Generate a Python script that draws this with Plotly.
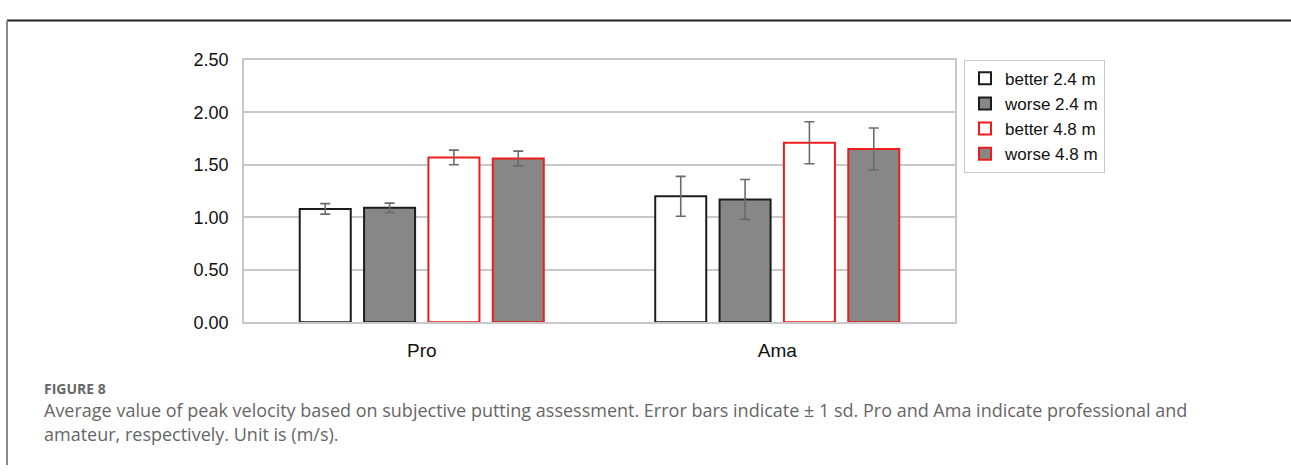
import plotly.graph_objects as go

W, H = 1291, 475

categories = ["Pro", "Ama"]
series_names = ["better 2.4 m", "worse 2.4 m", "better 4.8 m", "worse 4.8 m"]
means = {
    "better 2.4 m": [1.08, 1.20],
    "worse 2.4 m": [1.09, 1.17],
    "better 4.8 m": [1.57, 1.71],
    "worse 4.8 m": [1.56, 1.65],
}
sds = {
    "better 2.4 m": [0.05, 0.19],
    "worse 2.4 m": [0.045, 0.19],
    "better 4.8 m": [0.07, 0.20],
    "worse 4.8 m": [0.07, 0.20],
}
fills = {"better 2.4 m": "#ffffff", "worse 2.4 m": "#878787",
         "better 4.8 m": "#ffffff", "worse 4.8 m": "#878787"}
edges = {"better 2.4 m": "#1c1c1c", "worse 2.4 m": "#1c1c1c",
         "better 4.8 m": "#ee1c1c", "worse 4.8 m": "#ee1c1c"}

y_ticks = [0, 0.5, 1.0, 1.5, 2.0, 2.5]

fig = go.Figure()
for i, name in enumerate(series_names):
    fig.add_trace(go.Bar(
        x=categories, y=means[name], name=name, legendgroup=f"g{i}",
        marker=dict(color=fills[name], line=dict(color=edges[name], width=2)),
        error_y=dict(type="data", array=sds[name], color="#6a6a6a", thickness=1.6, width=5),
    ))

px0, px1 = 244, 955
py0, py1 = 52, 326

fig.update_layout(
    width=W, height=H,
    margin=dict(l=0, r=0, t=0, b=0),
    paper_bgcolor="white", plot_bgcolor="white",
    barmode="group", bargap=0.276, bargroupgap=0.207,
    font=dict(family="Arial, Liberation Sans", color="#111"),
    showlegend=True,
    legend=dict(
        x=964 / W, y=1 - 52 / H, xanchor="left", yanchor="top",
        bordercolor="#c8c8c8", borderwidth=1, bgcolor="white",
        font=dict(family="Arial, Liberation Sans", size=17, color="#111"),
        traceorder="normal", tracegroupgap=2,
    ),
    xaxis=dict(
        domain=[px0 / W, px1 / W], showgrid=False, zeroline=False,
        showline=True, linecolor="#c8c8c8", linewidth=1.5, mirror=True,
        ticks="", tickfont=dict(size=19, color="#111"), ticklabelstandoff=10,
    ),
    yaxis=dict(
        domain=[1 - py1 / H, 1 - py0 / H], range=[0, 2.5],
        tickvals=y_ticks, tickformat=".2f",
        showgrid=True, gridcolor="#c8c8c8", gridwidth=1.5,
        zeroline=False, showline=True, linecolor="#c8c8c8", linewidth=1.5, mirror=True,
        ticks="", tickfont=dict(size=18, color="#111"), ticklabelstandoff=10,
    ),
)

# page frame lines
fig.add_shape(type="line", xref="paper", yref="paper", x0=7 / W, x1=1.0,
              y0=1 - 11 / H, y1=1 - 11 / H, line=dict(color="#222", width=2))
fig.add_shape(type="line", xref="paper", yref="paper", x0=7 / W, x1=7 / W,
              y0=0, y1=1 - 11 / H, line=dict(color="#888", width=2))

cap_font = "Open Sans, Noto Sans, sans-serif"
fig.add_annotation(text="<b>FIGURE 8</b>", xref="paper", yref="paper",
                   x=42 / W, y=1 - 395 / H, xanchor="left", yanchor="middle",
                   showarrow=False, font=dict(family=cap_font, size=14, color="#666"))
fig.add_annotation(text="Average value of peak velocity based on subjective putting assessment. Error bars indicate \u00b1 1 sd. Pro and Ama indicate professional and",
                   xref="paper", yref="paper", x=42 / W, y=1 - 418 / H,
                   xanchor="left", yanchor="middle", showarrow=False,
                   font=dict(family=cap_font, size=18, color="#666"))
fig.add_annotation(text="amateur, respectively. Unit is (m/s).",
                   xref="paper", yref="paper", x=42 / W, y=1 - 443 / H,
                   xanchor="left", yanchor="middle", showarrow=False,
                   font=dict(family=cap_font, size=18, color="#666"))

fig.write_html("out.html")
